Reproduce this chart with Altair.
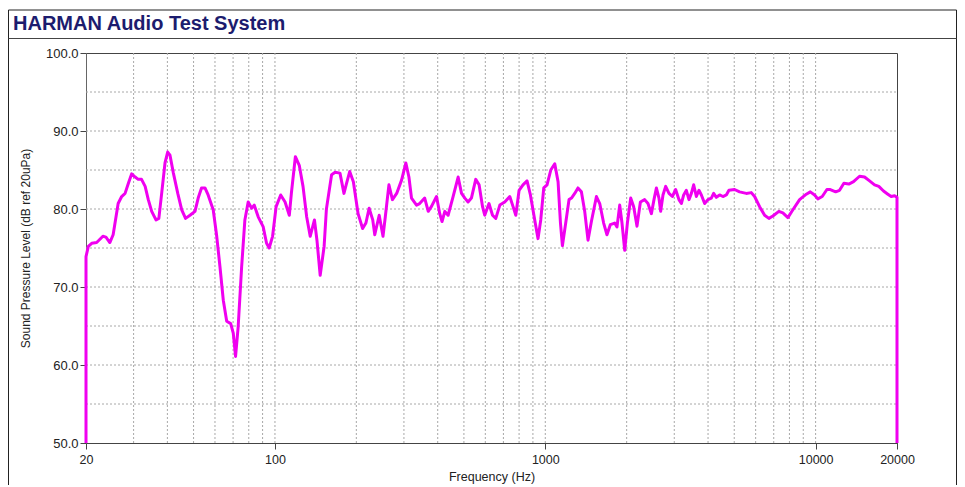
import altair as alt
import pandas as pd

TITLE = "HARMAN Audio Test System"
X_TITLE = "Frequency (Hz)"
Y_TITLE = "Sound Pressure Level (dB ref 20uPa)"

freq_hz = [
    20, 20, 20.4, 21.0, 21.9, 23.1, 23.7, 24.5, 25.2, 26.3,
    27.1, 27.9, 28.7, 29.5, 30.4, 31.2, 32.1, 33.1, 34.0, 35.0,
    36.3, 37.2, 38.1, 39.2, 40.1, 40.9, 42.1, 43.7, 45.2, 46.7,
    48.5, 50.6, 52.0, 53.5, 55.1, 56.6, 59.1, 60.9, 62.6, 64.4,
    66.3, 68.6, 70.1, 71.5, 73.1, 75.3, 77.4, 79.6, 82.0, 83.8,
    86.7, 90.5, 93.1, 95.2, 98.0, 101, 105, 109, 113, 115,
    119, 123, 127, 131, 135, 140, 143, 147, 152, 155,
    162, 167, 174, 180, 184, 189, 195, 203, 211, 217,
    223, 230, 234, 243, 251, 256, 264, 272, 282, 294,
    305, 313, 320, 334, 343, 358, 369, 379, 396, 407,
    415, 425, 437, 456, 476, 490, 504, 518, 533, 553,
    569, 586, 597, 619, 638, 656, 679, 708, 739, 760,
    778, 800, 827, 856, 881, 914, 940, 962, 987, 1015,
    1048, 1084, 1115, 1138, 1157, 1190, 1224, 1250, 1285, 1321,
    1360, 1399, 1439, 1481, 1546, 1590, 1644, 1691, 1741, 1806,
    1842, 1885, 1922, 1967, 2012, 2070, 2123, 2184, 2248, 2331,
    2398, 2469, 2524, 2576, 2633, 2672, 2725, 2788, 2868, 2951,
    3035, 3122, 3187, 3250, 3325, 3400, 3470, 3539, 3621, 3702,
    3779, 3886, 3996, 4114, 4195, 4293, 4415, 4540, 4674, 4779,
    5015, 5232, 5541, 5782, 5947, 6206, 6476, 6717, 6948, 7313,
    7566, 7896, 8240, 8724, 9236, 9556, 9912, 10190, 10580, 11010,
    11330, 11860, 12260, 12720, 13270, 13810, 14540, 15170, 15830, 16520,
    17130, 17830, 18500, 19040, 19590, 20000, 20000,
]

spl_db = [
    50, 73.9, 75.2, 75.6, 75.7, 76.5, 76.4, 75.7, 76.7, 80.7,
    81.6, 82.0, 83.3, 84.5, 84.1, 83.8, 83.8, 82.9, 81.2, 79.7,
    78.6, 78.8, 82.0, 85.9, 87.3, 86.9, 84.6, 82.0, 79.9, 78.8,
    79.2, 79.7, 81.4, 82.7, 82.7, 81.8, 79.9, 76.5, 72.6, 68.3,
    65.6, 65.3, 64.1, 61.1, 64.9, 72.6, 78.6, 80.9, 80.1, 80.5,
    79.0, 77.7, 75.6, 75.0, 76.5, 80.3, 81.8, 80.9, 79.2, 82.0,
    86.7, 85.6, 82.9, 79.0, 76.5, 78.6, 76.0, 71.5, 75.2, 80.0,
    84.4, 84.7, 84.6, 82.0, 83.3, 84.8, 83.5, 79.4, 77.5, 78.2,
    80.1, 78.6, 76.7, 79.2, 76.5, 79.0, 83.1, 81.2, 82.0, 83.7,
    85.9, 84.1, 81.4, 80.5, 80.7, 81.4, 79.7, 80.3, 81.6, 79.4,
    78.4, 79.7, 79.2, 81.6, 84.1, 82.0, 81.4, 80.9, 81.4, 83.8,
    83.1, 80.3, 79.2, 80.7, 79.2, 78.8, 80.5, 80.9, 81.6, 80.3,
    79.2, 82.4, 83.1, 83.6, 81.8, 78.6, 76.2, 78.6, 82.7, 83.1,
    85.0, 85.8, 83.5, 78.2, 75.3, 78.2, 81.2, 81.4, 82.0, 82.7,
    82.2, 79.7, 76.0, 78.4, 81.6, 80.7, 78.2, 76.7, 78.0, 78.2,
    77.7, 80.5, 78.2, 74.7, 78.2, 81.4, 80.3, 77.8, 80.9, 81.2,
    80.7, 79.4, 81.2, 82.7, 81.4, 79.7, 81.8, 82.9, 82.0, 81.6,
    82.5, 81.2, 80.7, 81.8, 82.4, 81.2, 82.0, 83.1, 81.6, 82.4,
    81.8, 80.7, 81.2, 81.4, 82.0, 81.5, 81.8, 81.6, 81.8, 82.4,
    82.5, 82.2, 82.0, 82.1, 81.6, 80.3, 79.2, 78.8, 79.1, 79.7,
    79.5, 78.9, 79.9, 81.2, 81.9, 82.2, 81.8, 81.3, 81.6, 82.5,
    82.5, 82.2, 82.4, 83.3, 83.2, 83.5, 84.2, 84.1, 83.6, 83.1,
    82.9, 82.3, 81.9, 81.6, 81.7, 81.5, 50,
]

x_tick_labels = [20, 100, 1000, 10000, 20000]
y_tick_labels = [50, 60, 70, 80, 90, 100]
x_grid = [30, 40, 50, 60, 70, 80, 90, 100,
          200, 300, 400, 500, 600, 700, 800, 900, 1000,
          2000, 3000, 4000, 5000, 6000, 7000, 8000, 9000, 10000]
y_grid = [55, 60, 65, 70, 75, 80, 85, 90, 95]

W, H = 811, 390
FONT = "Liberation Sans"

df = pd.DataFrame({"freq": freq_hz, "spl": spl_db, "i": list(range(len(freq_hz)))})
xgrid_df = pd.DataFrame({"freq": x_grid})
ygrid_df = pd.DataFrame({"spl": y_grid})
one = pd.DataFrame({"k": [0]})

xscale = alt.Scale(type="log", domain=[20, 20000], nice=False)
yscale = alt.Scale(domain=[50, 100], nice=False, zero=False)

xaxis = alt.Axis(
    values=x_tick_labels, format="d", title=X_TITLE, grid=False,
    tickSize=6, tickColor="#444", domainColor="#444",
    labelFontSize=12.5, labelFont=FONT, labelColor="#222", labelPadding=4,
    labelFlush=False, labelOverlap=False,
    titleFontSize=12.5, titleFont=FONT, titleFontWeight="normal", titleColor="#222",
    titleX=W / 2, titleY=37, titleBaseline="alphabetic")
yaxis = alt.Axis(
    values=y_tick_labels, format=".1f", title=Y_TITLE, grid=False,
    tickSize=6, tickColor="#444", domainColor="#666",
    labelFontSize=13, labelFont=FONT, labelColor="#222", labelPadding=2,
    labelFlush=False, labelOverlap=False,
    titleFontSize=12, titleFont=FONT, titleFontWeight="normal", titleColor="#222",
    titleX=-61, titleY=H / 2, titleAngle=270, titleBaseline="middle")

grid_style = dict(color="#a8a8a8", strokeDash=[2, 2], strokeWidth=1)

vgrid = alt.Chart(xgrid_df).mark_rule(**grid_style).encode(
    x=alt.X("freq:Q", scale=xscale, axis=xaxis),
    y=alt.value(0), y2=alt.value(H),
)
hgrid = alt.Chart(ygrid_df).mark_rule(**grid_style).encode(
    y=alt.Y("spl:Q", scale=yscale, axis=yaxis),
    x=alt.value(0), x2=alt.value(W),
)

line = alt.Chart(df).mark_line(color="#f000f0", strokeWidth=3, strokeJoin="round").encode(
    x=alt.X("freq:Q", scale=xscale, axis=xaxis),
    y=alt.Y("spl:Q", scale=yscale, axis=yaxis),
    order=alt.Order("i:Q"),
)

frame_style = dict(color="#222", strokeWidth=1)
left_edge = alt.Chart(one).mark_rule(**frame_style).encode(
    x=alt.value(-77.5), y=alt.value(-43), y2=alt.value(440))
right_edge = alt.Chart(one).mark_rule(**frame_style).encode(
    x=alt.value(870.5), y=alt.value(-43), y2=alt.value(440))
top_edge = alt.Chart(one).mark_rule(**frame_style).encode(
    x=alt.value(-77.5), x2=alt.value(870.5), y=alt.value(-43))
title_rule = alt.Chart(one).mark_rule(color="#444", strokeWidth=1).encode(
    x=alt.value(-77.5), x2=alt.value(870.5), y=alt.value(-14.5))
title_text = alt.Chart(one).mark_text(
    align="left", baseline="alphabetic", font=FONT, fontSize=20,
    fontWeight="bold", color="#1c1c6e", text=TITLE,
).encode(x=alt.value(-73), y=alt.value(-23.5))

chart = alt.layer(
    vgrid, hgrid, line, left_edge, right_edge, top_edge, title_rule, title_text
).properties(
    width=W, height=H,
    autosize=alt.AutoSizeParams(type="none"),
    padding={"left": 78, "top": 45, "right": 60, "bottom": 42},
    background="white",
).configure_view(stroke="#444", strokeWidth=1)

chart.save("out.html", embed_options={"renderer": "svg", "actions": False})
